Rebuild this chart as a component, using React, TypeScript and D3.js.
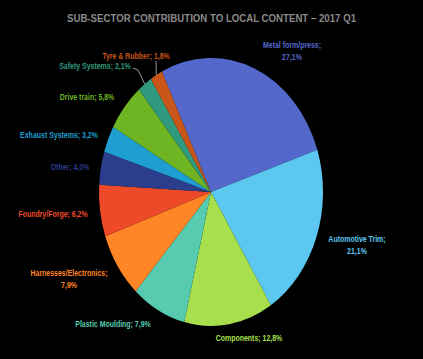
import React, { useEffect, useRef } from "react";
import * as d3 from "d3";

// slices, clockwise from the start angle
const sectors = [
  "Metal form/press",
  "Automotive Trim",
  "Components",
  "Plastic Moulding",
  "Harnesses/Electronics",
  "Foundry/Forge",
  "Other",
  "Exhaust Systems",
  "Drive train",
  "Safety Systems",
  "Tyre & Rubber",
];
const shares = [27.1, 21.1, 12.8, 7.9, 7.9, 6.2, 4.0, 3.2, 5.8, 2.1, 1.8];
const colors = [
  "#5468CC",
  "#5CC8F2",
  "#A7E04C",
  "#56CBB0",
  "#FF8526",
  "#EE4A2A",
  "#2C3D8E",
  "#1F9ED2",
  "#6FB422",
  "#2F9A7E",
  "#C8561B",
];

const title = "SUB-SECTOR CONTRIBUTION TO LOCAL CONTENT \u2013 2017 Q1";

// label placement (lines of text, center x, first baseline)
const labelLayout: Record<string, { lines: number; x: number; y: number; lead?: [number, number][] }> = {
  "Metal form/press": { lines: 2, x: 292, y: 48 },
  "Automotive Trim": { lines: 2, x: 357, y: 242 },
  Components: { lines: 1, x: 249, y: 341 },
  "Plastic Moulding": { lines: 1, x: 113, y: 327 },
  "Harnesses/Electronics": { lines: 2, x: 69, y: 276 },
  "Foundry/Forge": { lines: 1, x: 53, y: 217 },
  Other: { lines: 1, x: 70, y: 170 },
  "Exhaust Systems": { lines: 1, x: 59, y: 138 },
  "Drive train": { lines: 1, x: 87, y: 100 },
  "Safety Systems": { lines: 1, x: 95, y: 69, lead: [[133, 68], [138, 70]] },
  "Tyre & Rubber": { lines: 1, x: 136, y: 59, lead: [[156, 61]] },
};

const fmt = (v: number) => v.toFixed(1).replace(".", ",") + "%";
const FONT = "'Liberation Sans', Arial, sans-serif";
const SQUEEZE = 0.82;

const App = () => {
  const svgRef = useRef<SVGSVGElement>(null);

  useEffect(() => {
    const w = 423;
    const h = 359;
    const cx = 211;
    const cy = 192;
    const rx = 112;
    const ry = 134;
    const start = (-26 * Math.PI) / 180;

    const svg = d3.select(svgRef.current).attr("width", w).attr("height", h);
    svg.selectAll("*").remove();

    svg.append("rect").attr("width", w).attr("height", h).attr("fill", "#000");

    svg
      .append("g")
      .attr("transform", `translate(${w / 2},22) scale(0.84,1)`)
      .append("text")
      .attr("text-anchor", "middle")
      .attr("fill", "#8a8a8a")
      .attr("font-family", FONT)
      .attr("font-weight", "bold")
      .attr("font-size", 11.5)
      .text(title);

    const data = sectors.map((name, i) => ({ name, value: shares[i], color: colors[i] }));

    const pie = d3
      .pie<{ name: string; value: number; color: string }>()
      .sort(null)
      .value((d) => d.value)
      .startAngle(start)
      .endAngle(start + 2 * Math.PI);

    const arcs = pie(data);
    const arc = d3.arc<any>().innerRadius(0).outerRadius(rx);

    svg
      .append("g")
      .attr("transform", `translate(${cx},${cy}) scale(1,${ry / rx})`)
      .selectAll("path")
      .data(arcs)
      .join("path")
      .attr("d", arc)
      .attr("fill", (d) => d.data.color);

    // labels
    arcs.forEach((a) => {
      const pos = labelLayout[a.data.name];
      const mid = (a.startAngle + a.endAngle) / 2;
      if (pos.lead) {
        const edge: [number, number] = [cx + rx * Math.sin(mid), cy - ry * Math.cos(mid)];
        svg
          .append("path")
          .attr("d", d3.line()([...pos.lead, edge]))
          .attr("fill", "none")
          .attr("stroke", "#bfbfbf")
          .attr("stroke-width", 0.8);
      }
      const t = svg
        .append("g")
        .attr("transform", `translate(${pos.x},${pos.y}) scale(${SQUEEZE},1)`)
        .append("text")
        .attr("font-family", FONT)
        .attr("font-weight", "bold")
        .attr("font-size", 8.5)
        .attr("text-anchor", "middle")
        .attr("fill", a.data.color);
      if (pos.lines === 2) {
        t.append("tspan").attr("x", 0).attr("y", 0).text(`${a.data.name};`);
        t.append("tspan").attr("x", 0).attr("y", 12).text(fmt(a.data.value));
      } else {
        t.attr("x", 0).attr("y", 0).text(`${a.data.name}; ${fmt(a.data.value)}`);
      }
    });
  }, []);

  return (
    <div style={{ position: "fixed", left: 0, top: 0, width: 423, height: 359, background: "#000" }}>
      <svg ref={svgRef} style={{ display: "block" }}></svg>
    </div>
  );
};

export default App;
